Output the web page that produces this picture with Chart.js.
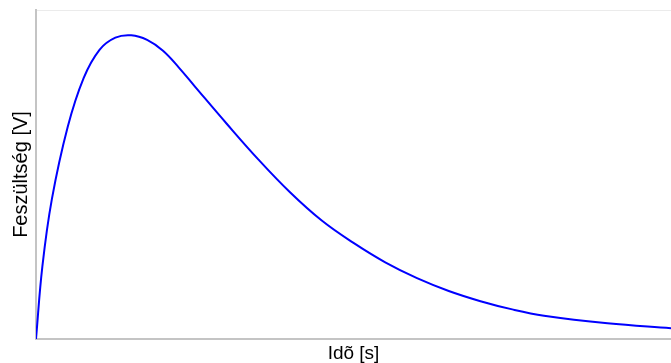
<!DOCTYPE html>
<html>
<head>
<meta charset="utf-8">
<script src="https://cdn.jsdelivr.net/npm/chart.js@4"></script>
<style>
  html, body { margin: 0; padding: 0; background: #fff; }
  #wrap { width: 671px; height: 363px; }
</style>
</head>
<body>
<div id="wrap"><canvas id="chart" width="671" height="363"></canvas></div>
<script>
// time [s] and voltage [V]
const times = [0, 0.1, 0.25, 0.5, 0.75, 1.0, 1.25, 1.5, 1.75, 2.0, 2.25, 2.5, 3.0, 3.5, 4.0, 4.5, 5.0, 5.5, 6.0, 6.5, 7.0, 7.5, 8.0, 9.0, 10];
const volts = [0, 22.0, 42.5, 64.5, 79.3, 87.9, 91.6, 92.3, 90.9, 87.6, 82.5, 76.8, 65.5, 54.6, 44.6, 36.0, 29.2, 23.3, 18.5, 14.6, 11.5, 9.0, 7.1, 4.8, 3.3];

const xTitle = "Idõ [s]";
const yTitle = "Feszültség [V]";

const points = times.map((t, i) => ({ x: t, y: volts[i] }));

new Chart(document.getElementById("chart"), {
  type: "line",
  data: {
    datasets: [
      {
        data: points,
        borderColor: "#0000ff",
        borderWidth: 2,
        pointRadius: 0,
        tension: 0.4,
        fill: false,
      },
    ],
  },
  options: {
    responsive: false,
    animation: false,
    layout: { padding: { left: 0, top: 10, right: 0, bottom: 0 } },
    plugins: { legend: { display: false }, tooltip: { enabled: false } },
    scales: {
      x: {
        type: "linear",
        min: 0,
        max: 10,
        grid: { display: false, drawTicks: false },
        ticks: { display: false },
        border: { color: "#c4c4c4", width: 2 },
        title: {
          display: true,
          text: xTitle,
          color: "#000",
          font: { family: "Liberation Sans, Arial", size: 19, lineHeight: 1 },
          padding: { top: 5, bottom: 0 },
        },
      },
      xTop: {
        type: "linear",
        position: "top",
        min: 0,
        max: 10,
        grid: { display: false, drawTicks: false },
        ticks: { display: false },
        border: { color: "#ebebeb", width: 1 },
      },
      y: {
        min: 0,
        max: 100,
        grid: { display: false, drawTicks: false },
        ticks: { display: false },
        border: { color: "#c4c4c4", width: 2 },
        title: {
          display: true,
          text: yTitle,
          color: "#000",
          font: { family: "Liberation Sans, Arial", size: 20 },
          padding: { top: 9, bottom: 3 },
        },
      },
    },
  },
});
</script>
</body>
</html>
